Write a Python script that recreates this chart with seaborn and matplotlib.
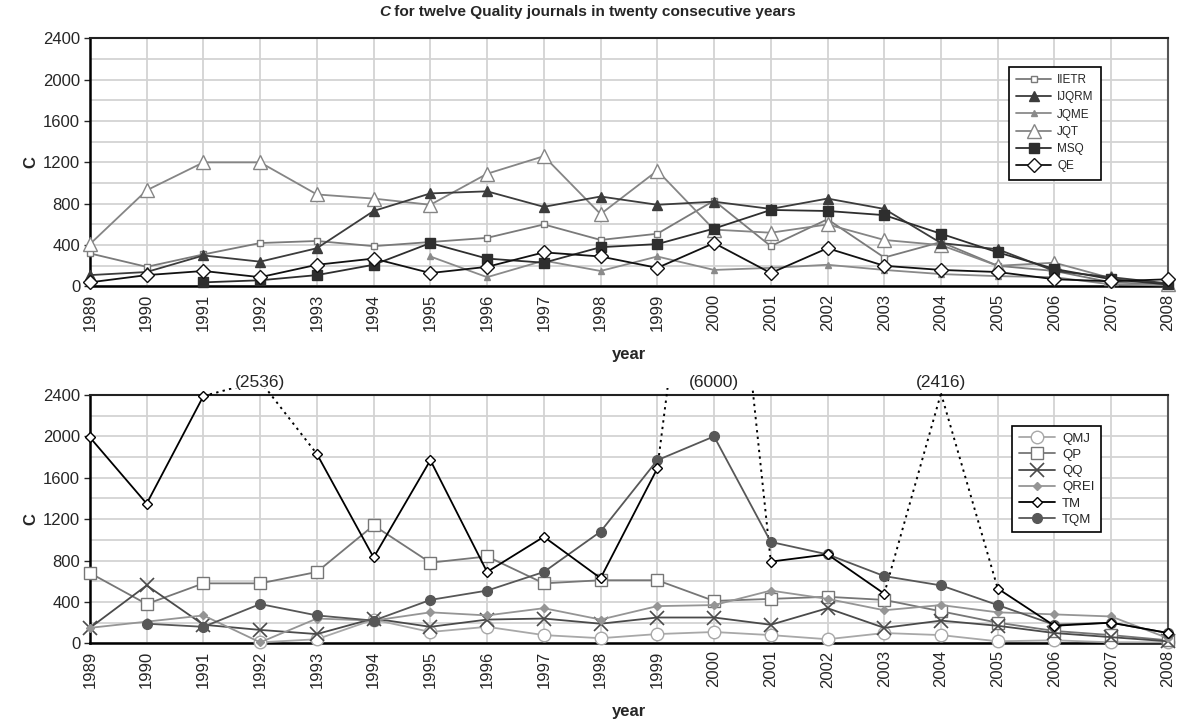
import numpy as np
import pandas as pd
import matplotlib
matplotlib.use("Agg")
import matplotlib.pyplot as plt
import matplotlib.transforms as mtransforms
from matplotlib.patches import Rectangle
import seaborn as sns

nan = np.nan
years = list(range(1989, 2009))

# ---- top panel ----
IIETR = [320, 190, 310, 420, 440, 390, 430, 470, 600, 450, 510, 830, 390, 650, 280, 430, 200, 150, 40, 20]
IJQRM = [110, 140, 300, 240, 370, 730, 900, 920, 770, 870, 790, 820, 750, 850, 750, 420, 360, 150, 90, 30]
JQME = [nan, nan, nan, nan, nan, nan, 290, 90, 250, 150, 290, 160, 180, 210, 160, 120, 100, 90, 20, 10]
JQT = [410, 930, 1200, 1200, 890, 850, 790, 1090, 1260, 700, 1120, 550, 520, 600, 450, 400, 200, 230, 80, 20]
MSQ = [nan, nan, 40, 60, 110, 210, 420, 270, 230, 380, 410, 560, 740, 730, 690, 510, 330, 170, 70, 20]
QE = [40, 110, 150, 90, 210, 270, 130, 190, 330, 290, 180, 420, 130, 370, 200, 160, 140, 70, 50, 70]

# ---- bottom panel ----
QMJ = [nan, nan, nan, 10, 40, 230, 110, 160, 80, 50, 90, 110, 80, 40, 100, 80, 20, 30, 10, 10]
QP = [680, 380, 580, 580, 690, 1140, 780, 840, 580, 610, 610, 410, 430, 450, 420, 310, 200, 120, 80, 30]
QQ = [150, 560, 180, 130, 90, 240, 160, 230, 240, 190, 250, 250, 180, 340, 150, 220, 170, 100, 60, 20]
QREI = [150, 210, 270, 10, 240, 220, 300, 270, 340, 230, 360, 370, 510, 430, 320, 370, 300, 280, 260, 50]
TM = [1990, 1350, 2390, 2536, 1830, 830, 1770, 690, 1030, 630, 1690, 6000, 790, 860, 480, 2416, 530, 170, 200, 100]
TQM = [nan, 190, 160, 380, 270, 220, 420, 510, 690, 1080, 1770, 2000, 980, 860, 650, 560, 370, 180, 200, 100]

YMAX = 2400

sns.set_style("white")
plt.rcParams["font.family"] = ["Liberation Sans", "DejaVu Sans"]

fig = plt.figure(figsize=(11.82, 7.22), dpi=100)
ax1 = fig.add_axes([0.0761, 0.6032, 0.912, 0.3438])
ax2 = fig.add_axes([0.0761, 0.1089, 0.912, 0.3440])


def style(ax):
    ax.set_xlim(1989, 2008)
    ax.set_ylim(0, YMAX)
    ax.set_yticks(range(0, YMAX + 1, 400))
    ax.set_yticks(range(0, YMAX + 1, 200), minor=True)
    ax.set_xticks(years)
    ax.set_xticklabels([str(y) for y in years], rotation=90)
    ax.grid(True, which="both", axis="y", color="#d3d3d3", lw=1.3)
    ax.grid(True, which="major", axis="x", color="#d3d3d3", lw=1.3)
    ax.set_axisbelow(True)
    for s in ["left", "bottom"]:
        ax.spines[s].set_color("black")
        ax.spines[s].set_linewidth(1.8)
    ax.spines["top"].set_color("#222222")
    ax.spines["top"].set_linewidth(1.5)
    ax.spines["right"].set_color("#555555")
    ax.spines["right"].set_linewidth(1.5)
    ax.tick_params(axis="y", which="minor", length=0)
    ax.tick_params(axis="y", which="major", length=4, width=1, direction="out",
                   labelsize=12, pad=3, left=True)
    ax.tick_params(axis="x", which="major", length=0, labelsize=12, pad=5, bottom=True)
    ax.set_ylabel("C", fontweight="bold", fontsize=12)
    ax.yaxis.set_label_coords(-0.0475, 0.5)
    ax.set_xlabel("year", fontweight="bold", fontsize=12, labelpad=12)


def draw(ax, vals, label, color, marker, ms, mfc, mec, mew=1.0, lw=1.3, ls="-",
         z=3, x=None, clip=False):
    xs = years if x is None else x
    df = pd.DataFrame({"year": xs, "C": vals}).dropna()
    n0 = len(ax.lines)
    sns.lineplot(data=df, x="year", y="C", ax=ax, color=color, marker=marker,
                 markersize=ms, markerfacecolor=mfc, markeredgecolor=mec,
                 markeredgewidth=mew, lw=lw, linestyle=ls, label=label,
                 estimator=None, zorder=z)
    ln = ax.lines[n0:]
    for l in ln:
        l.set_clip_on(clip)
    return ln


# top panel series
draw(ax1, IIETR, "IIETR", "#7a7a7a", "s", 4.5, "white", "#7a7a7a", z=3)
draw(ax1, IJQRM, "IJQRM", "#3c3c3c", "^", 7, "#3c3c3c", "#3c3c3c", z=4)
draw(ax1, JQME, "JQME", "#8a8a8a", "^", 5, "#8a8a8a", "#8a8a8a", z=3)
draw(ax1, JQT, "JQT", "#858585", "^", 10, "white", "#858585", z=3)
draw(ax1, MSQ, "MSQ", "#2e2e2e", "s", 7, "#2e2e2e", "#2e2e2e", z=4)
draw(ax1, QE, "QE", "#111111", "D", 7, "white", "#111111", z=5)

# bottom panel series
draw(ax2, QMJ, "QMJ", "#a8a8a8", "o", 9, "white", "#a8a8a8", z=3)
draw(ax2, QP, "QP", "#767676", "s", 9, "white", "#767676", z=3)
draw(ax2, QQ, "QQ", "#4a4a4a", "x", 10, "#4a4a4a", "#4a4a4a", mew=1.2, z=3)
draw(ax2, QREI, "QREI", "#959595", "D", 4.5, "#959595", "#959595", z=3)

# TM: solid where in range, dotted towards off-scale values
tm = np.array(TM, dtype=float)
inr = tm <= YMAX
yrs = np.array(years)
clip_rect = Rectangle((0, 0), 1, 1.03, transform=ax2.transAxes)
first = True
run = []
for i in range(len(years)):
    if inr[i]:
        run.append(i)
    if (not inr[i] or i == len(years) - 1) and run:
        draw(ax2, tm[run], "TM" if first else "_TM", "black", "D", 5, "white",
             "black", z=5, x=yrs[run])
        first = False
        run = []
for i in range(len(years) - 1):
    if not (inr[i] and inr[i + 1]):
        ls_ = draw(ax2, tm[i:i + 2], "_TMd", "black", None, 0, "none", "none",
                   lw=1.4, ls=(0, (1.2, 2.2)), z=4, x=yrs[i:i + 2], clip=True)
        for l in ls_:
            l.set_clip_path(clip_rect)

draw(ax2, TQM, "TQM", "#575757", "o", 7, "#575757", "#575757", z=4)

# labels for off-scale TM values
blend = mtransforms.blended_transform_factory(ax2.transData, ax2.transAxes)
for i in range(len(years)):
    if not inr[i]:
        ax2.text(yrs[i], 1.05, f"({int(tm[i])})", transform=blend, ha="center",
                 va="center", fontsize=12.5)

for ax in (ax1, ax2):
    style(ax)

leg_kw = dict(loc="upper left", frameon=True, fancybox=False, edgecolor="black",
              framealpha=1, borderaxespad=0)
h1, l1 = ax1.get_legend_handles_labels()
lg1 = ax1.legend(h1, l1, bbox_to_anchor=(0.8525, 0.885), fontsize=8.5,
                 borderpad=0.6, handlelength=3.0, handletextpad=0.5,
                 labelspacing=0.45, **leg_kw)
h2, l2 = ax2.get_legend_handles_labels()
order = ["QMJ", "QP", "QQ", "QREI", "TM", "TQM"]
hd = dict(zip(l2, h2))
lg2 = ax2.legend([hd[k] for k in order], order, bbox_to_anchor=(0.8553, 0.8755),
                 fontsize=9.5, borderpad=0.5, handlelength=2.8, handletextpad=0.5,
                 labelspacing=0.3, **leg_kw)
for lg in (lg1, lg2):
    lg.get_frame().set_linewidth(1.2)

# title with italic bold "C"
t1 = fig.text(0.5, 0.983, "C", fontsize=11.1, fontweight="bold", fontstyle="italic",
              ha="left", va="center")
t2 = fig.text(0.5, 0.983, " for twelve Quality journals in twenty consecutive years",
              fontsize=11.1, fontweight="bold", ha="left", va="center")
fig.canvas.draw()
r = fig.canvas.get_renderer()
w1 = t1.get_window_extent(r).width / fig.bbox.width
w2 = t2.get_window_extent(r).width / fig.bbox.width
cx = 0.497
t1.set_x(cx - (w1 + w2) / 2)
t2.set_x(cx - (w1 + w2) / 2 + w1)

fig.savefig("out.png", dpi=100)
